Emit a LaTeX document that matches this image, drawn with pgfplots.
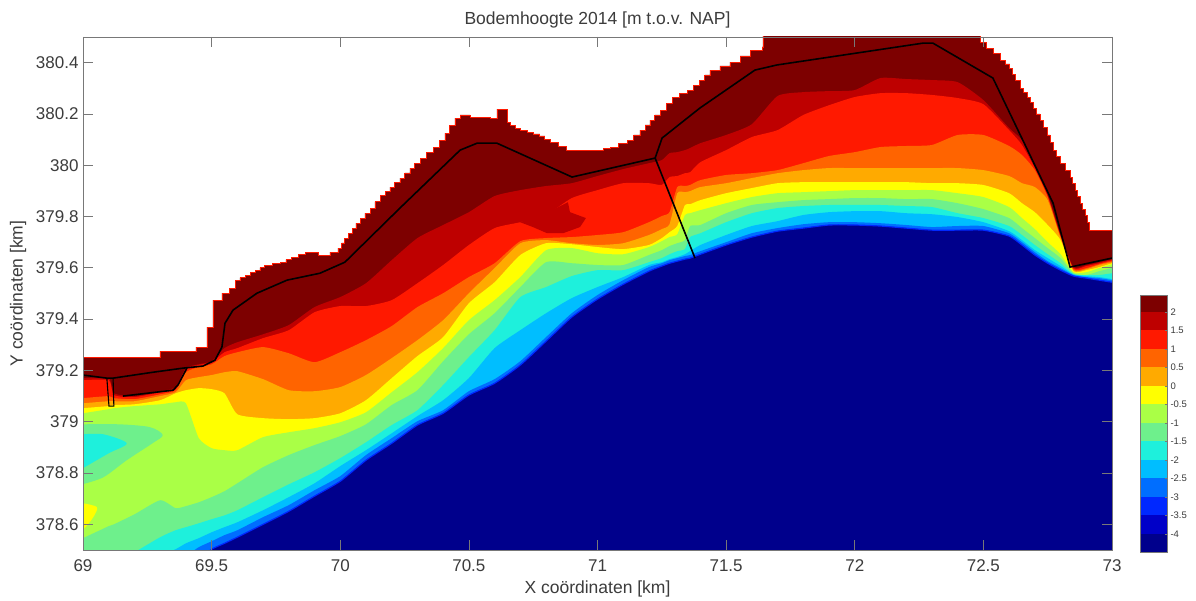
\documentclass[border=0pt]{standalone}
\usepackage{fontspec}
\setmainfont{Liberation Sans}
\usepackage{pgfplots}
\usepackage{pgfplotstable}
\pgfplotsset{compat=1.18}
\definecolor{cA}{RGB}{125,0,0}
\definecolor{cB}{RGB}{190,0,0}
\definecolor{cC}{RGB}{255,25,0}
\definecolor{cD}{RGB}{255,100,0}
\definecolor{cE}{RGB}{255,170,0}
\definecolor{cF}{RGB}{255,255,0}
\definecolor{cG}{RGB}{170,255,70}
\definecolor{cH}{RGB}{110,240,140}
\definecolor{cI}{RGB}{30,240,220}
\definecolor{cJ}{RGB}{0,190,255}
\definecolor{cK}{RGB}{0,110,255}
\definecolor{cL}{RGB}{0,40,255}
\definecolor{cM}{RGB}{0,0,200}
\definecolor{cN}{RGB}{0,0,140}
\definecolor{frame}{RGB}{120,120,120}
\definecolor{txt}{RGB}{60,60,60}
\pgfplotstableread{
x L2 L15 L1 L05 L0 Lm05 Lm1 Lm15 Lm2 Lm25 Lm4
69.00 379.170 379.162 379.092 379.072 379.053 379.033 378.546 378.449 378.449 378.449 378.449
69.10 379.170 379.162 379.100 379.080 379.061 379.049 378.593 378.449 378.449 378.449 378.449
69.12 379.111 379.104 379.092 379.080 379.065 379.053 378.600 378.449 378.449 378.449 378.449
69.20 379.100 379.096 379.088 379.080 379.068 379.061 378.639 378.491 378.449 378.449 378.449
69.30 379.119 379.115 379.107 379.100 379.084 379.068 378.694 378.550 378.480 378.449 378.449
69.36 379.135 379.131 379.123 379.115 379.111 379.076 378.663 378.577 378.503 378.449 378.449
69.40 379.209 379.205 379.193 379.162 379.123 379.072 378.671 378.589 378.526 378.476 378.449
69.45 379.224 379.221 379.213 379.174 379.131 378.936 378.686 378.604 378.546 378.511 378.460
69.50 379.236 379.232 379.224 379.182 379.127 378.897 378.706 378.620 378.569 378.534 378.503
69.55 379.287 379.271 379.256 379.193 379.111 378.889 378.729 378.635 378.589 378.558 378.526
69.60 379.310 379.287 379.271 379.197 379.029 378.889 378.760 378.655 378.608 378.577 378.550
69.70 379.341 379.326 379.291 379.166 379.014 378.940 378.823 378.706 378.655 378.628 378.600
69.80 379.377 379.357 379.267 379.123 379.010 378.959 378.870 378.756 378.706 378.675 378.651
69.90 379.447 379.427 379.232 379.119 379.014 378.975 378.909 378.803 378.760 378.733 378.710
70.00 379.486 379.451 379.271 379.135 379.033 378.998 378.944 378.858 378.827 378.788 378.768
70.10 379.540 379.451 379.318 379.182 379.084 379.037 378.990 378.920 378.889 378.870 378.850
70.20 379.630 379.474 379.373 379.248 379.170 379.115 379.065 378.987 378.955 378.936 378.916
70.30 379.716 379.540 379.447 379.318 379.256 379.193 379.123 379.045 379.022 379.002 378.987
70.40 379.767 379.611 379.501 379.396 379.330 379.287 379.236 379.143 379.084 379.045 379.033
70.50 379.817 379.689 379.564 379.501 379.462 379.396 379.341 379.252 379.170 379.119 379.104
70.60 379.880 379.755 379.618 379.599 379.544 379.474 379.423 379.357 379.287 379.166 379.150
70.70 379.903 379.778 379.704 379.696 379.650 379.564 379.525 379.486 379.357 379.236 379.221
70.80 379.919 379.806 379.716 379.708 379.696 379.669 379.622 379.525 379.423 379.330 379.314
70.90 379.930 379.872 379.720 379.696 379.692 379.677 379.618 379.568 379.482 379.423 379.408
71.00 379.958 379.903 379.728 379.689 379.681 379.657 379.611 379.591 379.525 379.494 379.478
71.10 379.985 379.930 379.739 379.696 379.673 379.653 379.611 379.591 379.564 379.552 379.536
71.20 380.008 379.930 379.778 379.728 379.689 379.681 379.650 379.622 379.611 379.603 379.587
71.25 380.020 379.923 379.802 379.751 379.716 379.704 379.669 379.638 379.622 379.618 379.607
71.28 380.047 379.954 379.817 379.770 379.739 379.720 379.685 379.653 379.634 379.630 379.618
71.31 380.051 379.958 379.915 379.891 379.763 379.731 379.696 379.665 379.642 379.638 379.626
71.34 380.059 379.969 379.919 379.895 379.845 379.806 379.708 379.673 379.653 379.646 379.634
71.36 380.067 379.973 379.923 379.899 379.848 379.813 379.763 379.720 379.665 379.650 379.638
71.40 380.086 380.012 379.942 379.915 379.864 379.825 379.767 379.735 379.689 379.665 379.653
71.50 380.118 380.059 379.962 379.930 379.891 379.852 379.813 379.778 379.728 379.700 379.689
71.60 380.160 380.110 379.969 379.950 379.911 379.876 379.845 379.813 379.763 379.735 379.720
71.70 380.270 380.137 379.981 379.969 379.930 379.891 379.856 379.833 379.782 379.755 379.743
71.80 380.285 380.196 380.008 379.981 379.934 379.895 379.864 379.841 379.806 379.770 379.755
71.90 380.289 380.234 380.036 379.989 379.934 379.899 379.868 379.845 379.817 379.778 379.767
72.00 380.293 380.266 380.051 379.989 379.934 379.903 379.872 379.845 379.821 379.778 379.767
72.10 380.340 380.281 380.071 379.989 379.934 379.903 379.872 379.845 379.821 379.774 379.763
72.20 380.336 380.281 380.075 379.989 379.934 379.903 379.868 379.841 379.813 379.767 379.755
72.30 380.332 380.274 380.079 379.989 379.930 379.903 379.868 379.837 379.809 379.759 379.747
72.40 380.324 380.262 380.118 379.989 379.930 379.891 379.852 379.813 379.798 379.763 379.747
72.50 380.254 380.238 380.118 379.981 379.923 379.876 379.829 379.794 379.778 379.763 379.747
72.60 380.145 380.137 380.075 379.958 379.891 379.837 379.794 379.763 379.743 379.735 379.724
72.65 380.098 380.079 380.040 379.930 379.852 379.794 379.755 379.728 379.708 379.700 379.689
72.70 379.997 379.989 379.981 379.915 379.817 379.751 379.716 379.689 379.669 379.661 379.650
72.75 379.887 379.880 379.876 379.864 379.767 379.700 379.677 379.653 379.638 379.626 379.618
72.80 379.728 379.724 379.720 379.716 379.708 379.653 379.638 379.618 379.607 379.599 379.591
72.85 379.603 379.599 379.595 379.591 379.587 379.583 379.579 379.575 379.575 379.572 379.568
72.90 379.611 379.607 379.599 379.595 379.591 379.583 379.572 379.572 379.568 379.564 379.560
72.95 379.622 379.618 379.614 379.611 379.603 379.599 379.587 379.572 379.564 379.560 379.552
73.00 379.634 379.630 379.626 379.622 379.618 379.614 379.599 379.579 379.556 379.552 379.544
}\bed
\pgfplotstableread{
x y
69.000 379.252
69.299 379.275
69.439 379.291
69.482 379.369
69.505 379.474
69.540 379.501
69.571 379.521
69.591 379.552
69.610 379.562
69.630 379.572
69.650 379.581
69.669 379.591
69.688 379.601
69.707 379.611
69.736 379.616
69.766 379.622
69.789 379.632
69.812 379.642
69.838 379.651
69.863 379.661
69.914 379.650
69.960 379.661
69.991 379.677
70.005 379.697
70.018 379.716
70.032 379.735
70.046 379.755
70.061 379.774
70.077 379.794
70.096 379.813
70.116 379.833
70.135 379.858
70.155 379.883
70.174 379.899
70.193 379.915
70.212 379.932
70.232 379.950
70.251 379.970
70.271 379.989
70.290 380.008
70.310 380.028
70.335 380.050
70.361 380.071
70.384 380.098
70.407 380.125
70.426 380.155
70.446 380.184
70.466 380.196
70.504 380.188
70.582 380.184
70.609 380.219
70.633 380.219
70.648 380.168
70.663 380.156
70.679 380.145
70.702 380.137
70.726 380.129
70.751 380.122
70.776 380.114
70.795 380.102
70.815 380.090
70.848 380.075
70.881 380.059
70.998 380.059
71.023 380.065
71.049 380.071
71.082 380.085
71.115 380.098
71.140 380.118
71.165 380.137
71.185 380.157
71.204 380.176
71.223 380.196
71.243 380.215
71.268 380.240
71.293 380.266
71.320 380.280
71.348 380.293
71.373 380.312
71.398 380.332
71.417 380.352
71.437 380.371
71.476 380.387
71.515 380.402
71.554 380.426
71.593 380.449
71.640 380.461
71.643 380.550
72.460 380.550
72.487 380.480
72.510 380.457
72.537 380.437
72.565 380.410
72.584 380.395
72.603 380.379
72.613 380.355
72.623 380.332
72.642 380.301
72.656 380.284
72.670 380.266
72.681 380.245
72.693 380.223
72.706 380.200
72.720 380.176
72.733 380.147
72.747 380.118
72.759 380.089
72.771 380.059
72.784 380.034
72.798 380.008
72.817 379.981
72.837 379.954
72.846 379.929
72.856 379.903
72.866 379.878
72.876 379.852
72.885 379.829
72.895 379.806
72.905 379.777
72.914 379.747
73.000 379.735
73.000 378.400
69.000 378.400
}\outer
\newcommand{\band}[2]{\addplot[smooth,tension=0.35,fill=#1,draw=none,forget plot] table[x=x,y=#2]{\bed} -- (axis cs:73,378.4) -- (axis cs:69,378.4) -- cycle;}
\begin{document}
\begin{tikzpicture}[x=1pt,y=1pt]
\fill[white] (0,0) rectangle (1196,601);
\path[use as bounding box] (0,0) rectangle (1196,601);
\begin{axis}[
  at={(83pt,51pt)},anchor=south west,
  scale only axis,width=1029pt,height=513pt,
  xmin=69,xmax=73,ymin=378.5,ymax=380.5,
  axis on top,
  axis line style={frame,line width=0.9pt},
  tick style={frame,line width=0.7pt},
  tick align=inside,major tick length=10pt,
  xtick={69,69.5,70,70.5,71,71.5,72,72.5,73},
  xticklabels={69,69.5,70,70.5,71,71.5,72,72.5,73},
  ytick={378.6,378.8,379,379.2,379.4,379.6,379.8,380,380.2,380.4},
  yticklabels={378.6,378.8,379,379.2,379.4,379.6,379.8,380,380.2,380.4},
  ticklabel style={font=\fontsize{17}{19}\selectfont,text=txt},
  xticklabel style={yshift=-6pt},
  yticklabel style={xshift=-1pt},
  title={Bodemhoogte 2014 [m t.o.v. NAP]},
  title style={font=\fontsize{17.5}{19}\selectfont,text=txt,at={(0.5,1)},anchor=center,yshift=11pt},
  xlabel={X coördinaten [km]},
  xlabel style={font=\fontsize{17.5}{19}\selectfont,text=txt,at={(0.5,0)},anchor=center,yshift=-39pt},
  ylabel={Y coördinaten [km]},
  ylabel style={font=\fontsize{17.5}{19}\selectfont,text=txt,at={(0,0.5)},anchor=center,yshift=65pt},
]
\addplot[const plot,fill=cA,draw=cC,line width=0.8pt,forget plot] table[x=x,y=y]{\outer} -- cycle;
\band{cB}{L2}
\band{cC}{L15}
\addplot[fill=cB,draw=none,forget plot] coordinates {(70.699,379.778)(70.749,379.759)(70.804,379.735)(70.866,379.735)(70.932,379.759)(70.955,379.794)(70.893,379.817)(70.885,379.856)(70.800,379.813)} -- cycle;
\band{cD}{L1}
\band{cE}{L05}
\band{cF}{L0}
\band{cG}{Lm05}
\addplot[smooth,fill=cH,draw=none,forget plot] coordinates {(69.00,378.990)(69.14,378.990)(69.26,378.979)(69.31,378.948)(69.27,378.916)(69.17,378.850)(69.08,378.784)(69.00,378.757)} -- cycle;
\addplot[smooth,fill=cI,draw=none,forget plot] coordinates {(69.00,378.951)(69.08,378.951)(69.17,378.916)(69.10,378.877)(69.00,378.819)} -- cycle;
\addplot[smooth,fill=cF,draw=none,forget plot] coordinates {(69.00,378.682)(69.054,378.667)(69.04,378.628)(69.01,378.589)(69.00,378.58)} -- cycle;
\band{cH}{Lm1}
\band{cI}{Lm15}
\band{cJ}{Lm2}
\band{cK}{Lm25}
\band{cN}{Lm4}
\addplot[smooth,tension=0.35,cL,line width=1.2pt,forget plot] table[x=x,y=Lm4]{\bed};
% structures
\addplot[black,line width=1.6pt,forget plot] coordinates {(69,379.182)(69.093,379.170)(69.117,379.170)(69.272,379.193)(69.389,379.209)(69.466,379.217)(69.513,379.240)(69.540,379.291)(69.552,379.384)(69.583,379.435)(69.676,379.501)(69.793,379.552)(69.921,379.579)(70.018,379.622)(70.232,379.833)(70.466,380.059)(70.532,380.086)(70.609,380.086)(70.901,379.954)(71.224,380.028)(71.251,380.106)(71.398,380.223)(71.612,380.371)(71.698,380.391)(72.265,380.476)(72.304,380.476)(72.537,380.340)(72.771,379.852)(72.837,379.603)(73,379.638)};
\addplot[black,line width=1.6pt,forget plot] coordinates {(71.224,380.028)(71.379,379.638)};
\addplot[black,line width=1.1pt,forget plot] coordinates {(69.093,379.166)(69.101,379.061)(69.120,379.061)(69.117,379.166)};
\addplot[black,line width=1.6pt,forget plot] coordinates {(69.155,379.100)(69.350,379.123)(69.369,379.143)(69.404,379.209)};
\end{axis}
\begin{axis}[
  at={(1140pt,49pt)},anchor=south west,
  scale only axis,width=27pt,height=257pt,
  xmin=0,xmax=1,ymin=-4.49,ymax=2.46,
  axis on top,
  axis line style={frame,line width=0.5pt},
  xtick=\empty,
  ytick={-4,-3.5,-3,-2.5,-2,-1.5,-1,-0.5,0,0.5,1,1.5,2},
  yticklabels={-4,-3.5,-3,-2.5,-2,-1.5,-1,-0.5,0,0.5,1,1.5,2},
  ytick pos=right,yticklabel pos=right,
  tick align=inside,major tick length=2.5pt,
  tick style={frame,line width=0.4pt},
  ticklabel style={font=\fontsize{9.5}{10}\selectfont,text=txt},
]
\addplot[fill=cA,draw=none] coordinates {(0,2)(1,2)(1,2.46)(0,2.46)} -- cycle;
\addplot[fill=cB,draw=none] coordinates {(0,1.5)(1,1.5)(1,2)(0,2)} -- cycle;
\addplot[fill=cC,draw=none] coordinates {(0,1)(1,1)(1,1.5)(0,1.5)} -- cycle;
\addplot[fill=cD,draw=none] coordinates {(0,0.5)(1,0.5)(1,1)(0,1)} -- cycle;
\addplot[fill=cE,draw=none] coordinates {(0,0)(1,0)(1,0.5)(0,0.5)} -- cycle;
\addplot[fill=cF,draw=none] coordinates {(0,-0.5)(1,-0.5)(1,0)(0,0)} -- cycle;
\addplot[fill=cG,draw=none] coordinates {(0,-1)(1,-1)(1,-0.5)(0,-0.5)} -- cycle;
\addplot[fill=cH,draw=none] coordinates {(0,-1.5)(1,-1.5)(1,-1)(0,-1)} -- cycle;
\addplot[fill=cI,draw=none] coordinates {(0,-2)(1,-2)(1,-1.5)(0,-1.5)} -- cycle;
\addplot[fill=cJ,draw=none] coordinates {(0,-2.5)(1,-2.5)(1,-2)(0,-2)} -- cycle;
\addplot[fill=cK,draw=none] coordinates {(0,-3)(1,-3)(1,-2.5)(0,-2.5)} -- cycle;
\addplot[fill=cL,draw=none] coordinates {(0,-3.5)(1,-3.5)(1,-3)(0,-3)} -- cycle;
\addplot[fill=cM,draw=none] coordinates {(0,-4)(1,-4)(1,-3.5)(0,-3.5)} -- cycle;
\addplot[fill=cN,draw=none] coordinates {(0,-4.49)(1,-4.49)(1,-4)(0,-4)} -- cycle;
\end{axis}
\end{tikzpicture}
\end{document}
